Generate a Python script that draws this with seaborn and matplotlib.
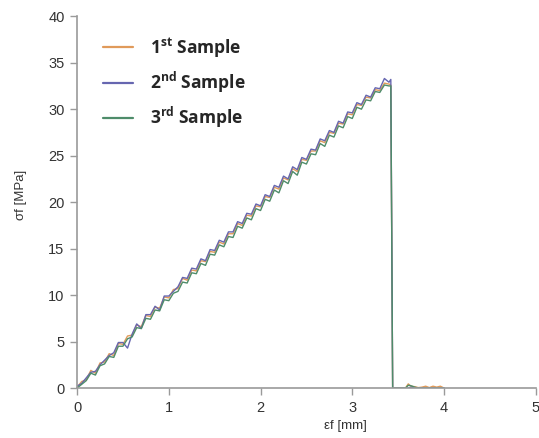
import numpy as np
import pandas as pd
import matplotlib
matplotlib.use("Agg")
import matplotlib.pyplot as plt
import seaborn as sns

# strain [mm] shared by all three samples
strain = [0.00, 0.05, 0.10, 0.15, 0.20, 0.25, 0.30, 0.35, 0.40, 0.45,
          0.50, 0.55, 0.60, 0.65, 0.70, 0.75, 0.80, 0.85, 0.90, 0.95,
          1.00, 1.05, 1.10, 1.15, 1.20, 1.25, 1.30, 1.35, 1.40, 1.45,
          1.50, 1.55, 1.60, 1.65, 1.70, 1.75, 1.80, 1.85, 1.90, 1.95,
          2.00, 2.05, 2.10, 2.15, 2.20, 2.25, 2.30, 2.35, 2.40, 2.45,
          2.50, 2.55, 2.60, 2.65, 2.70, 2.75, 2.80, 2.85, 2.90, 2.95,
          3.00, 3.05, 3.10, 3.15, 3.20, 3.25, 3.30, 3.35, 3.40, 3.42,
          3.44, 3.50, 3.58, 3.61, 3.64, 3.68, 3.72, 3.76, 3.80, 3.84,
          3.88, 3.92, 3.96, 4.00]

# stress [MPa]
sample1 = [0.1, 0.7, 0.9, 1.9, 1.6, 2.7, 2.8, 3.7, 3.5, 4.8,
           4.7, 5.6, 5.7, 6.8, 6.6, 7.8, 7.7, 8.7, 8.6, 9.8,
           9.7, 10.6, 10.7, 11.8, 11.6, 12.7, 12.6, 13.7, 13.6, 14.7,
           14.6, 15.7, 15.5, 16.6, 16.6, 17.7, 17.5, 18.6, 18.5, 19.6,
           19.5, 20.6, 20.5, 21.6, 21.4, 22.6, 22.4, 23.6, 23.3, 24.6,
           24.5, 25.5, 25.5, 26.6, 26.4, 27.5, 27.4, 28.5, 28.4, 29.5,
           29.4, 30.5, 30.4, 31.3, 31.2, 32.1, 32.0, 32.8, 32.7, 32.6,
           0.0, 0.0, 0.0, 0.45, 0.2, 0.15, 0.05, 0.1, 0.2, 0.05,
           0.2, 0.1, 0.2, 0.0]
sample2 = [0.2, 0.5, 1.1, 1.7, 1.8, 2.5, 3.0, 3.5, 3.8, 4.9,
           4.9, 4.3, 5.8, 6.9, 6.4, 7.9, 7.9, 8.8, 8.4, 9.9,
           9.9, 10.4, 10.9, 11.9, 11.8, 12.9, 12.8, 13.9, 13.7, 14.9,
           14.8, 15.9, 15.7, 16.8, 16.8, 17.9, 17.7, 18.8, 18.7, 19.8,
           19.6, 20.8, 20.6, 21.8, 21.6, 22.8, 22.5, 23.8, 23.5, 24.8,
           24.6, 25.7, 25.6, 26.8, 26.6, 27.7, 27.5, 28.7, 28.5, 29.7,
           29.6, 30.7, 30.5, 31.5, 31.3, 32.3, 32.2, 33.3, 32.9, 33.2,
           0.0, 0.0, 0.0, 0.0, 0.1, 0.0, 0.0, 0.0, 0.0, 0.0,
           0.0, 0.0, 0.0, 0.0]
sample3 = [0.0, 0.4, 0.8, 1.6, 1.4, 2.4, 2.6, 3.4, 3.3, 4.5,
           4.5, 5.3, 5.5, 6.5, 6.4, 7.5, 7.4, 8.4, 8.3, 9.5,
           9.4, 10.2, 10.4, 11.4, 11.3, 12.4, 12.3, 13.4, 13.2, 14.4,
           14.3, 15.4, 15.2, 16.3, 16.2, 17.4, 17.2, 18.3, 18.1, 19.3,
           19.1, 20.3, 20.1, 21.3, 21.0, 22.3, 22.0, 23.3, 22.9, 24.3,
           24.1, 25.2, 25.1, 26.3, 26.0, 27.2, 27.0, 28.2, 28.0, 29.2,
           29.0, 30.2, 30.0, 31.0, 30.9, 31.9, 31.8, 32.6, 32.5, 32.5,
           0.0, 0.0, 0.0, 0.3, 0.25, 0.1, 0.0, 0.0, 0.0, 0.0,
           0.0, 0.0, 0.0, 0.0]

labels = [r"1$^{\mathbf{st}}$ Sample", r"2$^{\mathbf{nd}}$ Sample", r"3$^{\mathbf{rd}}$ Sample"]
colors = ["#E09A5A", "#6666B0", "#4E8C6A"]

df = pd.concat([
    pd.DataFrame({"strain": strain, "stress": s, "sample": lab})
    for s, lab in zip([sample1, sample2, sample3], labels)
])

sns.set_style("white")
plt.rcParams["font.family"] = ["Liberation Sans", "DejaVu Sans"]
plt.rcParams["mathtext.fontset"] = "custom"
plt.rcParams["mathtext.rm"] = "Open Sans"
plt.rcParams["mathtext.bf"] = "Open Sans:bold"

fig = plt.figure(figsize=(5.39, 4.38), dpi=100)
ax = fig.add_axes([0.143, 0.114, 0.851, 0.849])

sns.lineplot(data=df, x="strain", y="stress", hue="sample", palette=colors,
             estimator=None, sort=False, linewidth=1.0, ax=ax)

ax.set_xlim(0, 5)
ax.set_ylim(0, 40)
ax.set_xticks(range(0, 6))
ax.set_yticks(range(0, 41, 5))
sns.despine(ax=ax)
for sp in ["left", "bottom"]:
    ax.spines[sp].set_color("#9a9a9a")
    ax.spines[sp].set_linewidth(1.2)
ax.tick_params(axis="both", direction="out", length=5, width=1, color="#9a9a9a",
               labelsize=10.5, labelcolor="#333333", pad=4, bottom=True, left=True)

ax.set_xlabel("εf [mm]", fontsize=9.5, color="#333333")
ax.set_ylabel("σf [MPa]", fontsize=9.5, color="#333333")
ax.xaxis.set_label_coords(0.584, -0.085)
ax.yaxis.set_label_coords(-0.11, 0.52)

leg = ax.legend(loc="upper left", bbox_to_anchor=(0.057, 0.947), frameon=False,
                borderpad=0, borderaxespad=0, handlelength=1.7, handletextpad=1.0,
                labelspacing=0.58,
                prop={"family": "Open Sans", "weight": "bold", "size": 12.5})
for h in leg.get_lines():
    h.set_linewidth(1.6)

fig.savefig("out.png", dpi=100)
